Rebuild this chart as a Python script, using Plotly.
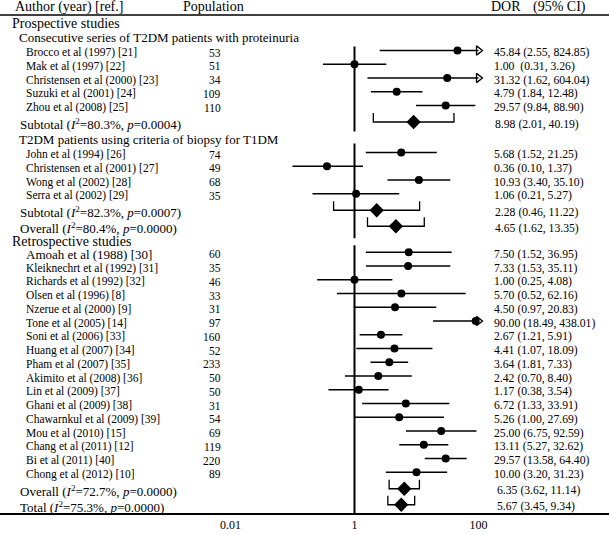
import math
import plotly.graph_objects as go

# ---------------- data ----------------
authors = ["Brocco et al (1997) [21]", "Mak et al (1997) [22]", "Christensen et al (2000) [23]",
           "Suzuki et al (2001) [24]", "Zhou et al (2008) [25]",
           "John et al (1994) [26]", "Christensen et al (2001) [27]", "Wong et al (2002) [28]",
           "Serra et al (2002) [29]",
           "Amoah et al (1988) [30]", "Kleiknechrt et al (1992) [31]", "Richards et al (1992) [32]",
           "Olsen et al (1996) [8]", "Nzerue et al (2000) [9]", "Tone et al (2005) [14]",
           "Soni et al (2006) [33]", "Huang et al (2007) [34]", "Pham et al (2007) [35]",
           "Akimito et al (2008) [36]", "Lin et al (2009) [37]", "Ghani et al (2009) [38]",
           "Chawarnkul et al (2009) [39]", "Mou et al (2010) [15]", "Chang et al (2011) [12]",
           "Bi et al (2011) [40]", "Chong et al (2012) [10]"]
population = [53, 51, 34, 109, 110, 74, 49, 68, 35, 60, 35, 46, 33, 31, 97, 160, 52, 233, 50, 50,
              31, 54, 69, 119, 220, 89]
dor = [45.84, 1.00, 31.32, 4.79, 29.57, 5.68, 0.36, 10.93, 1.06, 7.50, 7.33, 1.00, 5.70, 4.50,
       90.00, 2.67, 4.41, 3.64, 2.42, 1.17, 6.72, 5.26, 25.00, 13.11, 29.57, 10.00]
ci_lo = [2.55, 0.31, 1.62, 1.84, 9.84, 1.52, 0.10, 3.40, 0.21, 1.52, 1.53, 0.25, 0.52, 0.97,
         18.49, 1.21, 1.07, 1.81, 0.70, 0.38, 1.33, 1.00, 6.75, 5.27, 13.58, 3.20]
ci_hi = [824.85, 3.26, 604.04, 12.48, 88.90, 21.25, 1.37, 35.10, 5.27, 36.95, 35.11, 4.08, 62.16,
         20.83, 438.01, 5.91, 18.09, 7.33, 8.40, 3.54, 33.91, 27.69, 92.59, 32.62, 64.40, 31.23]

sum_kind = ["Subtotal", "Subtotal", "Overall", "Overall", "Total"]
sum_i2 = ["80.3", "82.3", "80.4", "72.7", "75.3"]
sum_p = ["0.0004", "0.0007", "0.0000", "0.0000", "0.0000"]
sum_dor = [8.98, 2.28, 4.65, 6.35, 5.67]
sum_lo = [2.01, 0.46, 1.62, 3.62, 3.45]
sum_hi = [40.19, 11.22, 13.35, 11.14, 9.34]

group_titles = ["Prospective studies", "Retrospective studies"]
subgroup_titles = ["Consecutive series of T2DM patients with proteinuria",
                   "T2DM patients using criteria of biopsy for T1DM"]
tick_vals = [0.01, 1, 100]
tick_text = ["0.01", "1", "100"]

# ---------------- row structure ----------------
sequence = [("group", 0), ("subgroup", 0)] + [("study", i) for i in range(0, 5)] + \
           [("summary", 0), ("subgroup", 1)] + [("study", i) for i in range(5, 9)] + \
           [("summary", 1), ("summary", 2), ("group", 1)] + [("study", i) for i in range(9, 26)] + \
           [("summary", 3), ("summary", 4)]

gaps = {("group", "subgroup"): 13.5, ("subgroup", "study"): 13.5, ("study", "study"): 13.75,
        ("study", "summary"): 16.5, ("summary", "subgroup"): 17, ("summary", "summary"): 16,
        ("summary", "group"): 15, ("group", "study"): 11}

W, H = 609, 535
BOTTOM = 513
XMAX = 100
FONT = "Liberation Serif, Times New Roman, serif"

ypos = []
y = 23.5
prev = None
for kind, ref in sequence:
    if prev is not None:
        y += gaps[(prev, kind)]
    ypos.append(y)
    prev = kind

study_y = {}
sum_y = {}
for (kind, ref), yy in zip(sequence, ypos):
    if kind == "study":
        study_y[ref] = yy
    elif kind == "summary":
        sum_y[ref] = yy

fig = go.Figure()
LW = 1.3

def px(xp):
    return xp / W

annotations = []

def add_text(x, yy, text, size, anchor="left"):
    annotations.append(dict(x=px(x), xref="paper", y=yy, yref="y", text=text, showarrow=False,
                            xanchor=anchor, yanchor="middle", borderpad=0,
                            font=dict(family=FONT, size=size, color="black")))

# headers
add_text(14, 6.5, "Author (year) [ref.]", 14)
add_text(182, 6.5, "Population", 14)
add_text(490, 6.5, "DOR", 14)
add_text(532, 6.5, "(95% CI)", 14)

# reference vertical lines (x = 1) for each block
blocks = [(study_y[0] - 4, sum_y[0] + 9.5), (study_y[5] - 9, sum_y[2] + 12), (study_y[9] - 7, BOTTOM)]
for top, bot in blocks:
    fig.add_trace(go.Scatter(x=[1, 1], y=[top, bot], mode="lines",
                             line=dict(color="black", width=2), hoverinfo="skip"))

# group / subgroup titles
for (kind, ref), yy in zip(sequence, ypos):
    if kind == "group":
        add_text(11, yy, group_titles[ref], 14)
    elif kind == "subgroup":
        add_text(18, yy, subgroup_titles[ref], 13)

TXT = 2
# studies
for i in range(len(authors)):
    yy = study_y[i]
    hi = min(ci_hi[i], XMAX)
    fig.add_trace(go.Scatter(x=[ci_lo[i], hi], y=[yy, yy], mode="lines",
                             line=dict(color="black", width=LW), hoverinfo="skip"))
    add_text(25, yy + TXT, authors[i], 13 if i == 9 else 11.5)
    add_text(222, yy + TXT, str(population[i]), 11.5, anchor="right")
    sp = "\u00a0\u00a0" if dor[i] == 1.00 and ci_lo[i] == 0.31 else " "
    add_text(493, yy + TXT, f"{dor[i]:.2f}{sp}({ci_lo[i]:.2f}, {ci_hi[i]:.2f})", 11.7)

fig.add_trace(go.Scatter(x=dor, y=[study_y[i] for i in range(len(dor))], mode="markers",
                         marker=dict(symbol="circle", size=8, color="black"), hoverinfo="skip"))

arrow_idx = [i for i in range(len(dor)) if ci_hi[i] > XMAX]
fig.add_trace(go.Scatter(x=[XMAX for _ in arrow_idx], y=[study_y[i] for i in arrow_idx],
                         mode="markers",
                         marker=dict(symbol="triangle-right-open", size=8, color="black",
                                     line=dict(width=1.3, color="black")),
                         hoverinfo="skip"))

# summaries
for j in range(len(sum_dor)):
    yy = sum_y[j]
    fig.add_trace(go.Scatter(x=[sum_lo[j], sum_lo[j], sum_hi[j], sum_hi[j]],
                             y=[yy - 9, yy, yy, yy - 9], mode="lines",
                             line=dict(color="black", width=LW), hoverinfo="skip"))
    add_text(19, yy + TXT,
             f"{sum_kind[j]} (<i>I</i><sup>2</sup>={sum_i2[j]}%, <i>p</i>={sum_p[j]})", 13)
    add_text(494 if j < 3 else 496, yy + TXT,
             f"{sum_dor[j]:.2f} ({sum_lo[j]:.2f}, {sum_hi[j]:.2f})", 11.7)

fig.add_trace(go.Scatter(x=sum_dor, y=[sum_y[j] for j in range(len(sum_dor))], mode="markers",
                         marker=dict(symbol="diamond", size=11, color="black"), hoverinfo="skip"))

# x mapping: value 1 at pixel 354.5, 62 px per decade
X1PX = 354.5
DEC = 62.0
xr = [-X1PX / DEC, (W - X1PX) / DEC]

fig.update_layout(
    width=W, height=H,
    margin=dict(l=0, r=0, t=0, b=H - BOTTOM, pad=0),
    paper_bgcolor="white", plot_bgcolor="white",
    showlegend=False,
    annotations=annotations,
    shapes=[dict(type="line", xref="paper", yref="y", x0=0, x1=1, y0=15, y1=15,
                 line=dict(color="black", width=1.5))],
    xaxis=dict(type="log", range=xr, domain=[0, 1], showline=True, linecolor="black",
               linewidth=1.5, ticks="", tickvals=tick_vals, ticktext=tick_text,
               tickfont=dict(family=FONT, size=12, color="black"),
               showgrid=False, zeroline=False, fixedrange=True),
    yaxis=dict(range=[BOTTOM, 0], visible=False, domain=[0, 1], fixedrange=True,
               showgrid=False, zeroline=False),
)

fig.write_html("out.html", config={"displayModeBar": False},
               post_script="document.body.style.margin='0';document.body.style.overflow='hidden';")
